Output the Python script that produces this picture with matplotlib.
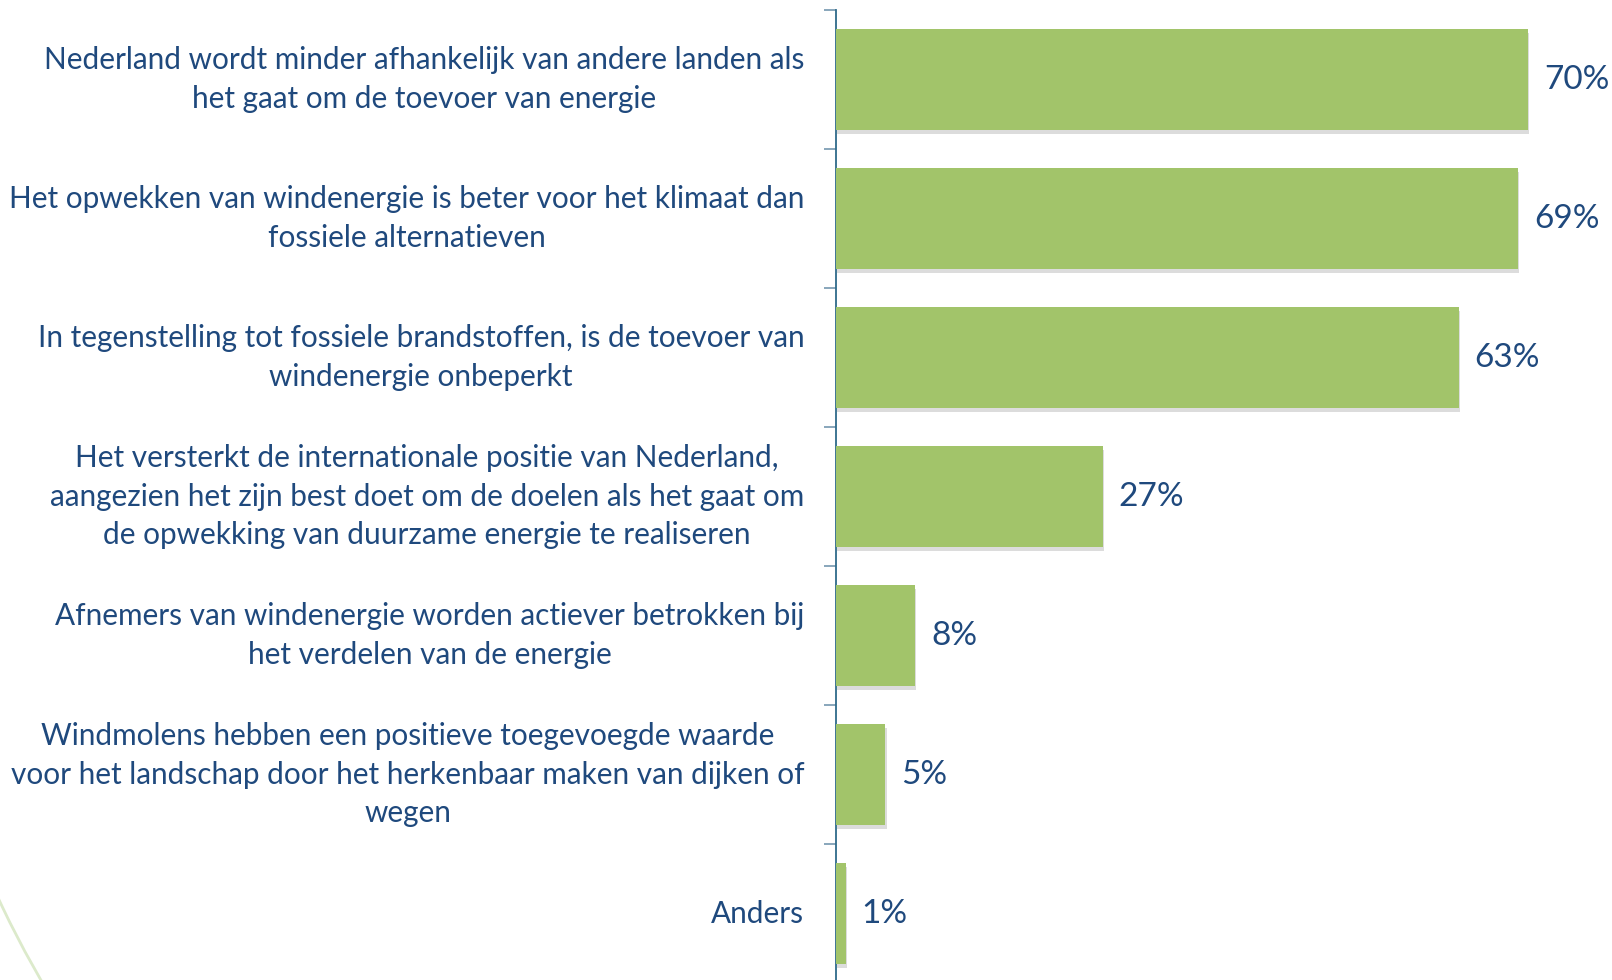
import numpy as np
import matplotlib.pyplot as plt
import matplotlib.patheffects as pe
from matplotlib.patches import Arc

# -- Donnees --
labels = [
    "Nederland wordt minder afhankelijk van andere landen als\nhet gaat om de toevoer van energie",
    "Het opwekken van windenergie is beter voor het klimaat dan\nfossiele alternatieven",
    "In tegenstelling tot fossiele brandstoffen, is de toevoer van\nwindenergie onbeperkt",
    "Het versterkt de internationale positie van Nederland,\naangezien het zijn best doet om de doelen als het gaat om\nde opwekking van duurzame energie te realiseren",
    "Afnemers van windenergie worden actiever betrokken bij\nhet verdelen van de energie",
    "Windmolens hebben een positieve toegevoegde waarde\nvoor het landschap door het herkenbaar maken van dijken of\nwegen",
    "Anders",
]
values = [70, 69, 63, 27, 8, 5, 1]

BAR_COLOR = "#A2C46A"
TEXT_COLOR = "#1F497D"
AXIS_COLOR = "#2E6A8A"
TICK_COLOR = "#7F9FB5"

W, H = 1612, 980
fig = plt.figure(figsize=(W / 100, H / 100), dpi=100)
ax = fig.add_axes([836 / W, -3 / H, (W - 836) / W, (970 + 3) / H])

n = len(values)
y = np.arange(n)
bars = ax.barh(y, values, height=0.73, color=BAR_COLOR, zorder=3)
for b in bars:
    b.set_path_effects([
        pe.SimplePatchShadow(offset=(1, -3), shadow_rgbFace="#777777", alpha=0.25),
        pe.Normal(),
    ])

ax.set_ylim(n - 0.5, -0.5)
ax.set_xlim(0, 78.5)

for i, v in enumerate(values):
    ax.text(v + 1.6, i, f"{v}%", va="center", ha="left",
            fontsize=24, color=TEXT_COLOR, family="Lato")

for i, lab in enumerate(labels):
    ax.text(-3.2, i, lab, va="center", ha="right", multialignment="center",
            fontsize=21.4, color=TEXT_COLOR, family="Lato", linespacing=1.45)

for s in ["top", "right", "bottom"]:
    ax.spines[s].set_visible(False)
ax.spines["left"].set_color(AXIS_COLOR)
ax.spines["left"].set_linewidth(1.3)
ax.set_xticks([])
ax.set_yticks([])
ax.set_yticks(np.arange(-0.5, n, 1.0), minor=True)
ax.tick_params(axis="y", which="minor", length=9, width=1.3,
               color=TICK_COLOR, direction="out")

# petit arc decoratif en bas a gauche
R = 994 / 100
arc = Arc((9.0, 5.0), 2 * R, 2 * R, theta1=198, theta2=213,
          transform=fig.dpi_scale_trans, color="#DCEACB", lw=2)
fig.add_artist(arc)

fig.savefig("out.png", dpi=100)
